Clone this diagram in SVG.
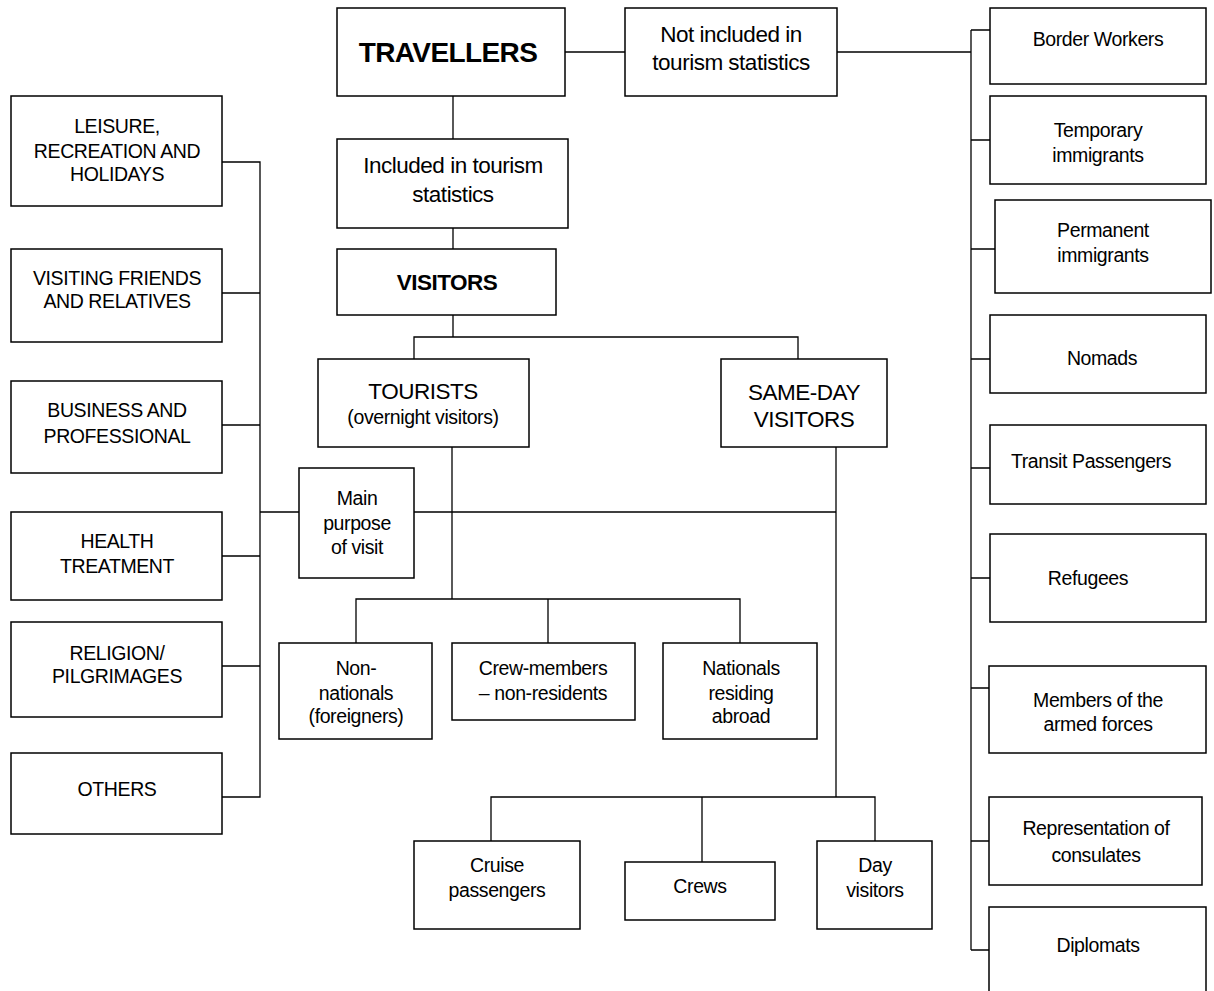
<svg xmlns="http://www.w3.org/2000/svg" width="1214" height="991" viewBox="0 0 1214 991">
<style>
.b{fill:#fff;stroke:#000;stroke-width:1.5}
.c{fill:none;stroke:#000;stroke-width:1.3}
text{font-family:"Liberation Sans",Arial,sans-serif;fill:#000;text-anchor:middle}
.s{font-size:19.5px;letter-spacing:-0.4px}
.l{font-size:22.5px;letter-spacing:-0.5px}
.bold{font-weight:bold}
</style>
<rect width="1214" height="991" fill="#fff"/>
<g id="connectors" class="c">
<path d="M565 52H625"/>
<path d="M837 52H971"/>
<path d="M971 30V950"/>
<path d="M971 30H990M971 140H990M971 249H995M971 359H990M971 468H990M971 578H990M971 688H989M971 841H989M971 950H989"/>
<path d="M453 96V139M453 228V249M453 315V337"/>
<path d="M414 359V337H798V359"/>
<path d="M452 447V599"/>
<path d="M836 447V797"/>
<path d="M260 512H299M414 512H836"/>
<path d="M356 643V599H740V643M548 599V643"/>
<path d="M491 841V797H875V841M702 797V862"/>
<path d="M222 162H260V797H222M222 293H260M222 425H260M222 556H260M222 666H260"/>
</g>
<g id="travellers"><rect class="b" x="337" y="8" width="228" height="88"/><text x="448" y="62" class="bold" style="font-size:28px;letter-spacing:-0.6px">TRAVELLERS</text></g>
<g id="not-included"><rect class="b" x="625" y="8" width="212" height="88"/><text class="l" x="731"><tspan x="731" y="42">Not included in</tspan><tspan x="731" y="70">tourism statistics</tspan></text></g>
<g id="included"><rect class="b" x="337" y="139" width="231" height="89"/><text class="l"><tspan x="453" y="173">Included in tourism</tspan><tspan x="453" y="202">statistics</tspan></text></g>
<g id="visitors"><rect class="b" x="337" y="249" width="219" height="66"/><text x="447" y="290" class="l bold">VISITORS</text></g>
<g id="tourists"><rect class="b" x="318" y="359" width="211" height="88"/><text x="423" y="399" class="l">TOURISTS</text><text x="423" y="424" class="s">(overnight visitors)</text></g>
<g id="same-day"><rect class="b" x="721" y="359" width="166" height="88"/><text class="l"><tspan x="804" y="400">SAME-DAY</tspan><tspan x="804" y="427">VISITORS</tspan></text></g>
<g id="main-purpose"><rect class="b" x="299" y="468" width="115" height="110"/><text class="s"><tspan x="357" y="505">Main</tspan><tspan x="357" y="530">purpose</tspan><tspan x="357" y="554">of visit</tspan></text></g>
<g id="non-nationals"><rect class="b" x="279" y="643" width="153" height="96"/><text class="s"><tspan x="356" y="675">Non-</tspan><tspan x="356" y="700">nationals</tspan><tspan x="356" y="723">(foreigners)</tspan></text></g>
<g id="crew-members"><rect class="b" x="452" y="643" width="183" height="77"/><text class="s"><tspan x="543" y="675">Crew-members</tspan><tspan x="543" y="700">– non-residents</tspan></text></g>
<g id="nationals-abroad"><rect class="b" x="663" y="643" width="154" height="96"/><text class="s"><tspan x="741" y="675">Nationals</tspan><tspan x="741" y="700">residing</tspan><tspan x="741" y="723">abroad</tspan></text></g>
<g id="cruise"><rect class="b" x="414" y="841" width="166" height="88"/><text class="s"><tspan x="497" y="872">Cruise</tspan><tspan x="497" y="897">passengers</tspan></text></g>
<g id="crews"><rect class="b" x="625" y="862" width="150" height="58"/><text x="700" y="893" class="s">Crews</text></g>
<g id="day-visitors"><rect class="b" x="817" y="841" width="115" height="88"/><text class="s"><tspan x="875" y="872">Day</tspan><tspan x="875" y="897">visitors</tspan></text></g>
<g id="leisure"><rect class="b" x="11" y="96" width="211" height="110"/><text class="s"><tspan x="117" y="133">LEISURE,</tspan><tspan x="117" y="158">RECREATION AND</tspan><tspan x="117" y="181">HOLIDAYS</tspan></text></g>
<g id="vfr"><rect class="b" x="11" y="249" width="211" height="93"/><text class="s"><tspan x="117" y="285">VISITING FRIENDS</tspan><tspan x="117" y="308">AND RELATIVES</tspan></text></g>
<g id="business"><rect class="b" x="11" y="381" width="211" height="92"/><text class="s"><tspan x="117" y="417">BUSINESS AND</tspan><tspan x="117" y="443">PROFESSIONAL</tspan></text></g>
<g id="health"><rect class="b" x="11" y="512" width="211" height="88"/><text class="s"><tspan x="117" y="548">HEALTH</tspan><tspan x="117" y="573">TREATMENT</tspan></text></g>
<g id="religion"><rect class="b" x="11" y="622" width="211" height="95"/><text class="s"><tspan x="117" y="660">RELIGION/</tspan><tspan x="117" y="683">PILGRIMAGES</tspan></text></g>
<g id="others"><rect class="b" x="11" y="753" width="211" height="81"/><text x="117" y="796" class="s">OTHERS</text></g>
<g id="border-workers"><rect class="b" x="990" y="8" width="216" height="76"/><text x="1098" y="46" class="s">Border Workers</text></g>
<g id="temporary-immigrants"><rect class="b" x="990" y="96" width="216" height="88"/><text class="s"><tspan x="1098" y="137">Temporary</tspan><tspan x="1098" y="162">immigrants</tspan></text></g>
<g id="permanent-immigrants"><rect class="b" x="995" y="200" width="216" height="93"/><text class="s"><tspan x="1103" y="237">Permanent</tspan><tspan x="1103" y="262">immigrants</tspan></text></g>
<g id="nomads"><rect class="b" x="990" y="315" width="216" height="78"/><text x="1102" y="365" class="s">Nomads</text></g>
<g id="transit"><rect class="b" x="990" y="425" width="216" height="79"/><text x="1091" y="468" class="s">Transit Passengers</text></g>
<g id="refugees"><rect class="b" x="990" y="534" width="216" height="88"/><text x="1088" y="585" class="s">Refugees</text></g>
<g id="armed-forces"><rect class="b" x="989" y="666" width="217" height="87"/><text class="s"><tspan x="1098" y="707">Members of the</tspan><tspan x="1098" y="731">armed forces</tspan></text></g>
<g id="consulates"><rect class="b" x="989" y="797" width="213" height="88"/><text class="s"><tspan x="1096" y="835">Representation of</tspan><tspan x="1096" y="862">consulates</tspan></text></g>
<g id="diplomats"><rect class="b" x="989" y="907" width="217" height="90"/><text x="1098" y="952" class="s">Diplomats</text></g>
</svg>
